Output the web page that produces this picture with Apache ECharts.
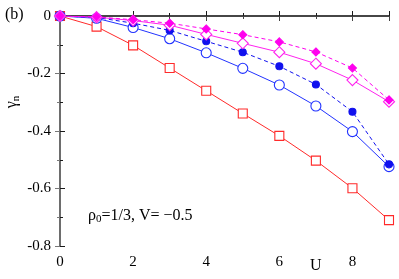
<!DOCTYPE html>
<html><head><meta charset="utf-8">
<script src="https://cdn.jsdelivr.net/npm/echarts@6/dist/echarts.min.js"></script>
<style>html,body{margin:0;padding:0;background:#fff}#c{width:399px;height:279px}</style>
</head><body><div id="c"></div>
<script>
const U = [0,1,2,3,4,5,6,7,8,9];
const redSquares = [0,-0.037,-0.102,-0.181,-0.260,-0.339,-0.417,-0.503,-0.599,-0.710];
const blueOpen = [0,-0.008,-0.040,-0.079,-0.128,-0.182,-0.240,-0.313,-0.402,-0.524];
const blueFilled = [0,-0.005,-0.025,-0.050,-0.088,-0.126,-0.175,-0.238,-0.333,-0.516];
const magentaOpen = [0,-0.004,-0.016,-0.032,-0.064,-0.095,-0.126,-0.166,-0.223,-0.298];
const magentaFilled = [0,-0.003,-0.013,-0.025,-0.045,-0.065,-0.090,-0.125,-0.181,-0.292];
const xTicks = [0,2,4,6,8];
const yTicks = [0,-0.2,-0.4,-0.6,-0.8];

const font = 'Liberation Serif';
const pts = arr => U.map((u,i)=>[u,arr[i]]);
function ser(name, arr, color, symbol, size, filled, dashed){
  return {name, type:'line', data: pts(arr), symbol, symbolSize:size,
    lineStyle:{color, width:1, type: dashed?[4,3]:'solid'},
    itemStyle:{color: filled?color:'#fff', borderColor:color, borderWidth:1.1},
    showAllSymbol:true, animation:false, z: 3};
}
function axisStyle(col){
  return {
    axisLine:{show:true, lineStyle:{color:col, width:1.5}},
    axisTick:{show:true, inside:true, length:5, lineStyle:{color:col}},
    minorTick:{show:true, splitNumber:2, length:3, lineStyle:{color:col}},
    splitLine:{show:false}
  };
}
const chart = echarts.init(document.getElementById('c'));
chart.setOption({
  animation:false,
  grid:{left:60, right:10, top:16, bottom:33},
  xAxis:[
    Object.assign({type:'value', min:0, max:9, interval:2, position:'bottom',
      axisLabel:{fontFamily:font, fontSize:15, color:'#000', margin:9,
        formatter:v=> xTicks.includes(v)? String(v):''}}, axisStyle('#1a1a1a')),
    Object.assign({type:'value', min:0, max:9, interval:2, position:'top',
      axisLabel:{show:false}}, axisStyle('#444'))
  ],
  yAxis:[
    Object.assign({type:'value', min:-0.8, max:0, interval:0.2, position:'left',
      axisLabel:{fontFamily:font, fontSize:15, color:'#000', margin:9,
        formatter:v=>{ const r=Math.round(v*10)/10; return r===0?'0':r.toFixed(1);} }}, axisStyle('#1a1a1a')),
    Object.assign({type:'value', min:-0.8, max:0, interval:0.2, position:'right',
      axisLabel:{show:false}}, axisStyle('#777'))
  ],
  series:[
    ser('red', redSquares, '#ff2a2a', 'rect', 9, false, false),
    ser('blueOpen', blueOpen, '#2233ff', 'circle', 10, false, false),
    ser('blueFilled', blueFilled, '#1010ee', 'circle', 7, true, true),
    ser('magOpen', magentaOpen, '#ff22ee', 'diamond', 11, false, false),
    ser('magFilled', magentaFilled, '#ff00ee', 'diamond', 8, true, true)
  ],
  graphic:[
    {type:'text', left:5, top:7, style:{text:'(b)', font:'16px "Liberation Serif"', fill:'#000'}},
    {type:'text', x:12, y:102, rotation:Math.PI/2, style:{text:'{a|γ}{s|n}', align:'center', verticalAlign:'middle', rich:{a:{fontFamily:font,fontSize:16,fill:'#000'}, s:{fontFamily:font,fontSize:11,fill:'#000', padding:[8,0,0,0]}}}},
    {type:'text', left:310, top:258, style:{text:'U', font:'16px "Liberation Serif"', fill:'#000'}},
    {type:'text', left:88, top:208, style:{text:'{a|ρ}{s|0}{a|=1/3, V= −0.5}', rich:{a:{fontFamily:font,fontSize:16,fill:'#000'}, s:{fontFamily:font,fontSize:11,fill:'#000', padding:[7,0,0,0]}}}}
  ]
});
</script></body></html>
